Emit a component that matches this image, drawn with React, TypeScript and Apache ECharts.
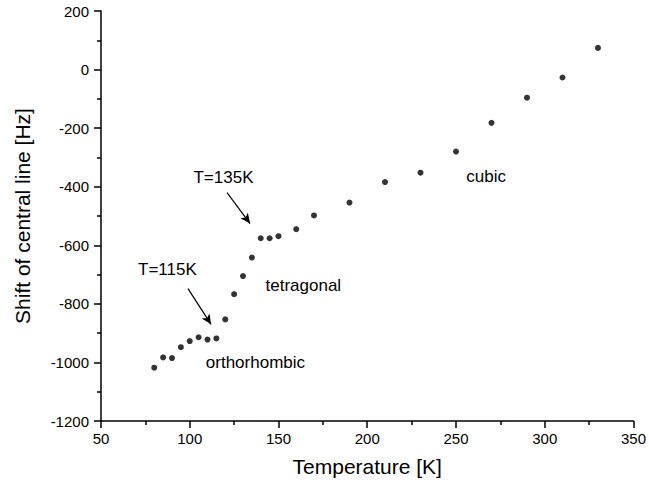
import React, { useEffect, useRef } from "react";
import * as echarts from "echarts";

const temperatures = [80, 85, 90, 95, 100, 105, 110, 115, 120, 125, 130, 135, 140, 145, 150, 160, 170, 190, 210, 230, 250, 270, 290, 310, 330];
const shifts = [-1018, -983, -985, -948, -927, -914, -922, -918, -853, -767, -705, -642, -576, -576, -569, -545, -498, -454, -384, -352, -280, -182, -96, -27, 74];

const xTicks = { min: 50, max: 350, interval: 50 };
const yTicks = { min: -1200, max: 200, interval: 200 };

const arrowStarts = [[121, -420], [99, -748]];
const arrowEnds = [[134, -526], [112, -870]];

const annotationTexts = ["T=135K", "T=115K", "tetragonal", "orthorhombic", "cubic"];
const annotationPositions = [[119, -368], [87.4, -682], [164, -737], [137, -999], [267, -366]];

const FONT = "'Liberation Sans', Arial, Helvetica, sans-serif";

export default function App() {
  const ref = useRef<HTMLDivElement>(null);
  useEffect(() => {
    if (!ref.current) return;
    const chart = echarts.init(ref.current, null, { renderer: "svg" });
    const points = temperatures.map((t, i) => [t, shifts[i]]);
    chart.setOption({
      animation: false,
      backgroundColor: "#ffffff",
      textStyle: { fontFamily: FONT, color: "#000" },
      grid: { left: 101, right: 14, top: 11, bottom: 70, containLabel: false },
      xAxis: {
        type: "value",
        min: xTicks.min,
        max: xTicks.max,
        interval: xTicks.interval,
        name: "Temperature [K]",
        nameLocation: "middle",
        nameGap: 35,
        nameTextStyle: { fontSize: 21, color: "#000", fontFamily: FONT },
        axisLine: { show: true, onZero: false, lineStyle: { color: "#000", width: 1.5 } },
        axisTick: { show: true, inside: false, length: 7, lineStyle: { color: "#000", width: 1.5 } },
        minorTick: { show: true, splitNumber: 2, length: 4, lineStyle: { color: "#000", width: 1.5 } },
        axisLabel: { fontSize: 15, color: "#000", margin: 10, fontFamily: FONT, formatter: (v: number) => String(v) },
        splitLine: { show: false },
      },
      yAxis: {
        type: "value",
        min: yTicks.min,
        max: yTicks.max,
        interval: yTicks.interval,
        name: "Shift of central line [Hz]",
        nameLocation: "middle",
        nameGap: 68,
        nameRotate: 90,
        nameTextStyle: { fontSize: 21, color: "#000", fontFamily: FONT },
        axisLine: { show: true, onZero: false, lineStyle: { color: "#000", width: 1.5 } },
        axisTick: { show: true, inside: false, length: 7, lineStyle: { color: "#000", width: 1.5 } },
        minorTick: { show: true, splitNumber: 2, length: 4, lineStyle: { color: "#000", width: 1.5 } },
        axisLabel: { fontSize: 15, color: "#000", margin: 12, fontFamily: FONT, formatter: (v: number) => String(v) },
        splitLine: { show: false },
      },
      series: [
        {
          type: "scatter",
          data: points,
          symbol: "circle",
          symbolSize: 6,
          itemStyle: { color: "#000" },
          markLine: {
            silent: true,
            symbol: ["none", "arrow"],
            symbolSize: [7, 10],
            label: { show: false },
            lineStyle: { color: "#000", width: 1.2, type: "solid" },
            data: arrowStarts.map((s, i) => [{ coord: s }, { coord: arrowEnds[i] }]),
          },
        },
      ],
    });
    const graphic = annotationTexts.map((txt, i) => {
      const p = chart.convertToPixel({ gridIndex: 0 }, annotationPositions[i]) as number[];
      return {
        type: "text",
        x: p[0],
        y: p[1],
        style: {
          text: txt,
          fill: "#000",
          fontSize: 17,
          fontFamily: FONT,
          align: "center",
          verticalAlign: "middle",
        },
      };
    });
    chart.setOption({ graphic });
    return () => chart.dispose();
  }, []);
  return <div ref={ref} style={{ width: 649, height: 491, position: "absolute", left: 0, top: 0 }} />;
}
